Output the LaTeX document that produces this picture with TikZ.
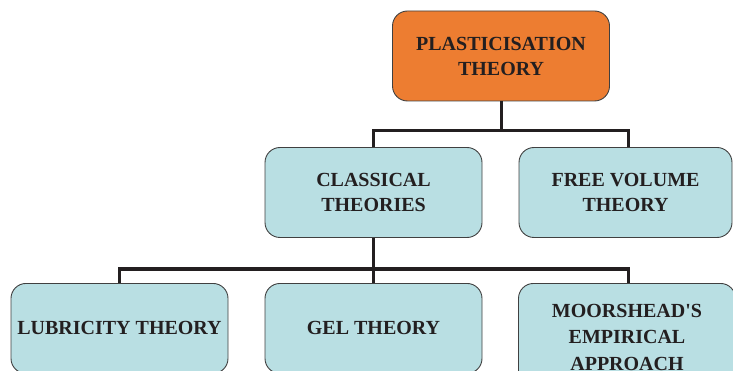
\documentclass[tikz,border=0pt]{standalone}
\usepackage{fontspec}
\setmainfont{Liberation Serif}
\usetikzlibrary{positioning}
\definecolor{ptorange}{RGB}{237,125,49}
\definecolor{ptteal}{RGB}{185,223,227}
\definecolor{ptedge}{RGB}{64,64,64}
\definecolor{ptline}{RGB}{35,31,32}

\begin{document}
\begin{tikzpicture}[x=1pt,y=-1pt,
  box/.style={draw=ptedge, line width=0.9pt, rounded corners=15pt,
    minimum width=217pt, minimum height=90pt, inner sep=2pt,
    align=center, text=ptline, font=\bfseries\fontsize{20}{25}\selectfont},
  topbox/.style={box, fill=ptorange},
  theorybox/.style={box, fill=ptteal},
  link/.style={ptline, line width=3pt}]
\useasboundingbox (0,0) rectangle (733,371);
% Root
\node[topbox] (plast) at (501,56) {PLASTICISATION\\THEORY};
% Second row
\node[theorybox] (classical) at (373.5,192.5) {CLASSICAL\\THEORIES};
\node[theorybox, minimum width=213pt] (freevol) at (625.5,192.5) {FREE VOLUME\\THEORY};
% Third row
\node[theorybox, anchor=north] (lubricity) at (119.5,283) {LUBRICITY THEORY};
\node[theorybox, anchor=north] (gel) at (373.5,283) {GEL THEORY};
\node[theorybox, anchor=north, minimum height=108pt] (moorshead) at (627,283)
  {MOORSHEAD\textquotesingle S\\[1.5pt]EMPIRICAL\\[1.5pt]APPROACH};
% Connectors
\draw[link] (plast.south) -- ++(0,29);
\draw[link] (classical.north) -- ++(0,-17) -| ([xshift=2.5pt]freevol.north);
\draw[link] (classical.south) -- (gel.north);
\draw[link] (lubricity.north) -- ++(0,-14) -| ([xshift=1pt]moorshead.north);
\end{tikzpicture}
\end{document}
